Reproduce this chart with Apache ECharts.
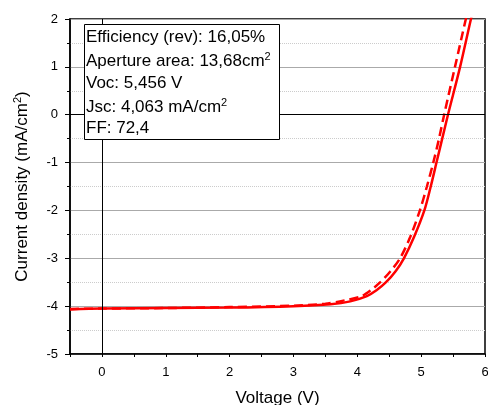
<!DOCTYPE html>
<html>
<head>
<meta charset="utf-8">
<script src="https://cdn.jsdelivr.net/npm/echarts@6/dist/echarts.min.js"></script>
<style>
  html, body { margin: 0; padding: 0; background: #fff; }
  #chart { width: 488px; height: 405px; }
</style>
</head>
<body>
<div id="chart"></div>
<script>
// J-V curves
const voltRev = [-0.5, 0, 1, 2, 3, 3.58, 3.89, 4.15, 4.3, 4.45, 4.6, 4.73, 4.89, 5.05, 5.15, 5.24, 5.33, 5.42, 5.61, 5.78, 5.82];
const currRev = [-4.07, -4.05, -4.04, -4.03, -4.0, -3.96, -3.9, -3.79, -3.67, -3.5, -3.27, -3.0, -2.55, -2.0, -1.5, -1.0, -0.5, 0, 1, 2, 2.2];

const voltFwd = [-0.5, 0, 1, 2, 3, 3.5, 3.8, 4.07, 4.22, 4.36, 4.52, 4.67, 4.83, 4.98, 5.09, 5.19, 5.28, 5.36, 5.53, 5.70, 5.74];
const currFwd = [-4.06, -4.05, -4.04, -4.02, -3.99, -3.95, -3.88, -3.79, -3.66, -3.5, -3.27, -3.0, -2.55, -2.0, -1.5, -1.0, -0.5, 0, 1, 2, 2.2];

const infoLines = [
    '{t|Efficiency (rev): 16,05%}',
    '{t|Aperture area: 13,68cm}{s|2}',
    '{t|Voc: 5,456 V}',
    '{t|Jsc: 4,063 mA/cm}{s|2}',
    '{t|FF: 72,4}'
];

const font = 'Arial, "Liberation Sans", sans-serif';

const chart = echarts.init(document.getElementById('chart'));

const richText = {
    t: { fontSize: 17, fontFamily: font, color: '#000' },
    s: { fontSize: 11, fontFamily: font, color: '#000', verticalAlign: 'top', padding: [0, 0, 9, 0] }
};

const options = {
    animation: false,
    grid: {
        left: 70,
        top: 19,
        width: 415,
        height: 335,
        outerBoundsMode: 'none',
        containLabel: false,
        show: true,
        borderColor: '#000',
        borderWidth: 1.5,
        backgroundColor: 'transparent'
    },
    xAxis: {
        type: 'value',
        min: -0.5,
        max: 6,
        interval: 0.5,
        name: 'Voltage (V)',
        nameLocation: 'middle',
        nameGap: 36,
        nameTextStyle: { fontSize: 17, fontFamily: font, color: '#000' },
        axisLine: { onZero: false, lineStyle: { color: '#000', width: 1.5 } },
        axisTick: { show: true, inside: false, length: 3, lineStyle: { color: '#000' } },
        axisLabel: {
            fontSize: 13,
            fontFamily: font,
            color: '#000',
            margin: 12,
            formatter: v => (Math.abs(v % 1) < 1e-9 ? String(Math.round(v)) : '')
        },
        splitLine: { show: false }
    },
    yAxis: {
        type: 'value',
        min: -5,
        max: 2,
        interval: 1,
        name: '{a|Current density (mA/cm}{s|2}{a|)}',
        nameLocation: 'middle',
        nameGap: 38,
        nameTextStyle: {
            rich: {
                a: { fontSize: 17, fontFamily: font, color: '#000' },
                s: { fontSize: 11, fontFamily: font, color: '#000', verticalAlign: 'top', padding: [0, 0, 9, 0] }
            }
        },
        axisLine: { onZero: false, lineStyle: { color: '#000', width: 1.5 } },
        axisTick: { show: true, length: 5, lineStyle: { color: '#000' } },
        minorTick: { show: true, splitNumber: 2, length: 3, lineStyle: { color: '#000' } },
        axisLabel: { fontSize: 13, fontFamily: font, color: '#000', margin: 12 },
        splitLine: { show: true, lineStyle: { color: '#aaa', width: 1 } },
        minorSplitLine: { show: true, lineStyle: { color: '#ccc', type: 'dotted', width: 1 } }
    },
    series: [
        {
            name: 'rev',
            type: 'line',
            data: voltRev.map((v, i) => [v, currRev[i]]),
            smooth: 0.3,
            showSymbol: false,
            lineStyle: { color: '#ff0000', width: 2.5 },
            z: 4,
            markLine: {
                silent: true,
                symbol: 'none',
                label: { show: false },
                lineStyle: { color: '#000', width: 1, type: 'solid' },
                data: [{ xAxis: 0 }, { yAxis: 0 }]
            }
        },
        {
            name: 'fwd',
            type: 'line',
            data: voltFwd.map((v, i) => [v, currFwd[i]]),
            smooth: 0.3,
            showSymbol: false,
            lineStyle: { color: '#ff0000', width: 2.5, type: [9, 5] },
            z: 4
        }
    ],
    graphic: [
        {
            type: 'rect',
            left: 84,
            top: 24,
            shape: { width: 195, height: 115 },
            style: { fill: '#fff', stroke: '#000', lineWidth: 1 },
            z: 10
        }
    ].concat(infoLines.map((line, i) => ({
        type: 'text',
        left: 86,
        top: 29 + i * 22.75,
        style: { text: line, rich: richText },
        z: 11
    })))
};

chart.setOption(options);
</script>
</body>
</html>
